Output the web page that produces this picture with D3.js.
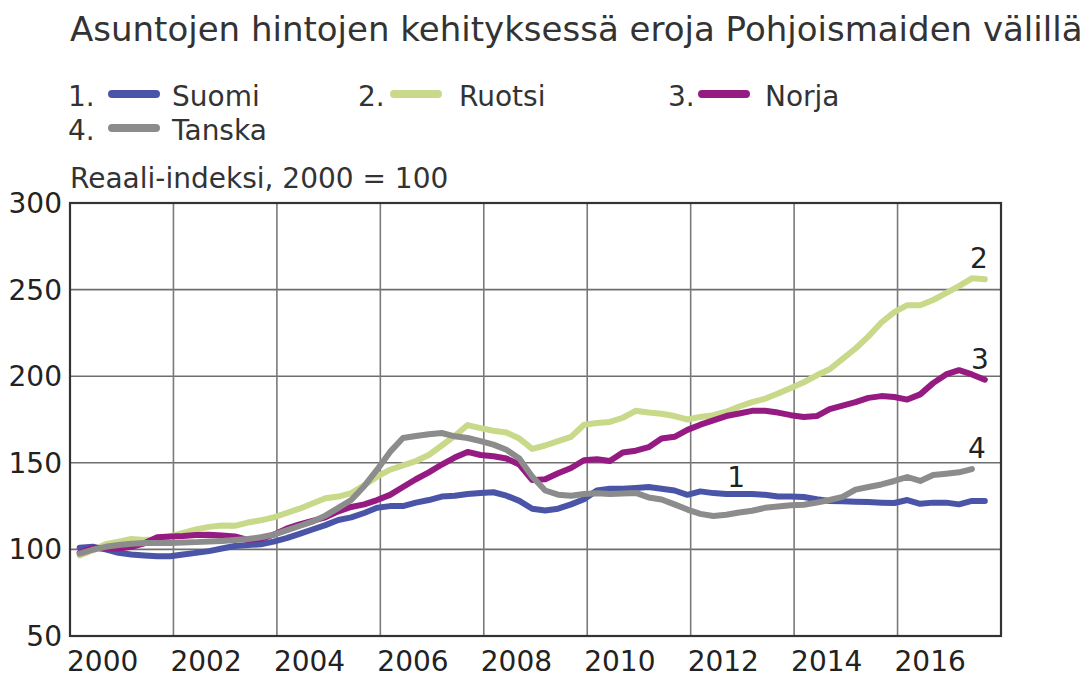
<!DOCTYPE html>
<html>
<head>
<meta charset="utf-8">
<script src="https://cdn.jsdelivr.net/npm/d3@7"></script>
<style>
  body { margin: 0; background: #fff; }
  svg { display: block; font-family: "DejaVu Sans", sans-serif; }
</style>
</head>
<body>
<svg id="chart"></svg>
<script>
// quarterly real house price index, 2000 = 100, first point 2000Q1
var firstYear = 2000;
var seriesNames = ["Suomi", "Ruotsi", "Norja", "Tanska"];
var seriesColors = ["#4a55a8", "#c8d98a", "#951b82", "#8c8c8c"];
var endLabels = ["1", "2", "3", "4"];

var suomi = [101, 101.5, 100, 98, 97, 96.5, 96, 96, 97, 98, 99, 100.5, 102, 102.5, 103, 104.5,
  106.5, 109, 111.5, 114, 117, 118.5, 121, 124, 125, 125, 127, 128.5, 130.5, 131, 132, 132.5,
  133, 131, 128, 123.5, 122.5, 123.5, 126, 129, 134, 135, 135, 135.5, 136, 135, 134, 131.5,
  133.5, 132.5, 132, 132, 132, 131.5, 130.5, 130.5, 130.3, 129, 128, 127.8, 127.5, 127.3, 127, 126.8,
  128.5, 126.3, 127, 127, 126, 128, 128];
var ruotsi = [96.5, 99.5, 103, 104.5, 106, 105.5, 105.5, 107.5, 109.5, 111.5, 113, 113.8, 113.6, 115.5, 116.8, 118.5,
  121, 123.5, 126.5, 129.5, 130.5, 132.5, 137, 142, 146, 148.5, 151, 154.5, 160, 165.5, 171.8, 170,
  168.5, 167.5, 164, 158, 160, 162.5, 165, 172, 173, 173.6, 176, 180, 179, 178.3, 177, 175,
  176.5, 177.5, 179.5, 182.5, 185, 187, 190, 193.2, 196.5, 200.5, 204, 210, 216, 223, 231, 237,
  241, 241, 244, 248, 252, 256.5, 256];
var norja = [98, 101, 100.5, 100.5, 101.5, 103.5, 107, 107.5, 107.8, 108.3, 108.4, 108, 107.5, 105.5, 106, 108.5,
  112, 114.5, 116.5, 118.5, 122, 124.5, 126, 128.5, 131.5, 136, 140.5, 144.5, 149, 153, 156.3, 154.5,
  153.8, 152.5, 149, 140, 140.5, 144, 147, 151.5, 152, 151, 156, 157, 159, 164, 165, 169,
  172, 174.5, 177, 178.5, 180, 180, 179, 177.5, 176.5, 177, 181, 183, 185, 187.5, 188.5, 188,
  186.5, 189.5, 196, 201, 203.5, 201, 198];
var tanska = [97.5, 99.8, 101.5, 102.5, 103.3, 103.7, 103.7, 103.7, 104, 104.2, 104.5, 104.9, 105.4, 106, 107, 108.5,
  111, 113.5, 116, 119.5, 124, 128.5, 136.5, 146, 156.3, 164.3, 165.5, 166.5, 167.2, 165.3, 164.3, 162.5,
  160.5, 157.5, 152.5, 142, 134, 131.6, 131, 132, 132.4, 132, 132.3, 132.6, 130, 128.8, 126, 123,
  120.5, 119.3, 120, 121.3, 122.3, 124, 124.8, 125.5, 125.8, 127, 128.5, 130.3, 134.5, 136, 137.5, 139.5,
  141.8, 139.5, 143, 143.7, 144.5, 146.4];

var yTicks = [50, 100, 150, 200, 250, 300];
var xTicks = [2000, 2002, 2004, 2006, 2008, 2010, 2012, 2014, 2016];

var title = "Asuntojen hintojen kehityksessä eroja Pohjoismaiden välillä";
var subtitle = "Reaali-indeksi, 2000 = 100";

var svgWidth = 1091, svgHeight = 678;
var margin = { top: 203, right: 90, bottom: 42, left: 70 };

var svg = d3.select("#chart")
  .attr("width", svgWidth)
  .attr("height", svgHeight);

var x = d3.scaleLinear()
  .domain([2000, 2018])
  .range([margin.left, svgWidth - margin.right]);

var y = d3.scaleLinear()
  .domain([50, 300])
  .range([svgHeight - margin.bottom, margin.top]);

//quarter index -> mid of quarter
var t = i => firstYear + (i + 0.75) / 4;

//gridlines
svg.append("g")
  .attr("stroke", "#6e6e6e")
  .attr("stroke-width", 1.6)
  .selectAll("line.h")
  .data(yTicks)
  .join("line")
    .attr("x1", x(2000)).attr("x2", x(2018))
    .attr("y1", d => y(d)).attr("y2", d => y(d));

svg.append("g")
  .attr("stroke", "#7a7a7a")
  .attr("stroke-width", 1.6)
  .selectAll("line.v")
  .data(xTicks.concat([2018]))
  .join("line")
    .attr("x1", d => x(d)).attr("x2", d => x(d))
    .attr("y1", y(50)).attr("y2", y(300));

//frame
svg.append("rect")
  .attr("x", x(2000)).attr("y", y(300))
  .attr("width", x(2018) - x(2000))
  .attr("height", y(50) - y(300))
  .attr("fill", "none")
  .attr("stroke", "#333")
  .attr("stroke-width", 2.2);

//axes labels
svg.append("g")
  .attr("font-size", 28)
  .attr("fill", "#222")
  .attr("text-anchor", "end")
  .selectAll("text")
  .data(yTicks)
  .join("text")
    .attr("x", 62)
    .attr("y", d => y(d))
    .attr("dy", "0.36em")
    .text(d => d);

svg.append("g")
  .attr("font-size", 28)
  .attr("fill", "#222")
  .selectAll("text")
  .data(xTicks)
  .join("text")
    .attr("x", d => x(d) - 3)
    .attr("y", 671)
    .text(d => d);

//lines
var allSeries = [suomi, ruotsi, norja, tanska];
var line = d3.line()
  .x((d, i) => x(t(i)))
  .y(d => y(d));

svg.append("g")
  .attr("fill", "none")
  .attr("stroke-width", 6)
  .attr("stroke-linejoin", "round")
  .attr("stroke-linecap", "round")
  .selectAll("path")
  .data(allSeries)
  .join("path")
    .attr("stroke", (d, i) => seriesColors[i])
    .attr("d", d => line(d));

//series numbers in the plot, placed next to a chosen data point
var numberPos = [
  { s: 0, i: 51, dx: -3, dy: -7 },
  { s: 1, i: 70, dx: -6, dy: -11 },
  { s: 2, i: 70, dx: -5, dy: -11 },
  { s: 3, i: 69, dx: 5, dy: -11 }
];
svg.append("g")
  .attr("font-size", 28)
  .attr("fill", "#222")
  .attr("text-anchor", "middle")
  .selectAll("text")
  .data(numberPos)
  .join("text")
    .attr("x", d => x(t(d.i)) + d.dx)
    .attr("y", d => y(allSeries[d.s][d.i]) + d.dy)
    .text(d => endLabels[d.s]);

//title + subtitle
svg.append("text")
  .attr("x", 70).attr("y", 41)
  .attr("font-size", 34)
  .attr("fill", "#333")
  .text(title);

svg.append("text")
  .attr("x", 70).attr("y", 188)
  .attr("font-size", 28)
  .attr("fill", "#333")
  .text(subtitle);

//legend: number x, line x, name x, baseline
var legendPos = [[68, 108, 172, 106], [358, 390, 459, 106], [668, 698, 765, 106], [68, 108, 172, 140]];
var legend = svg.append("g")
  .attr("font-size", 28)
  .attr("fill", "#333")
  .selectAll("g")
  .data(seriesNames)
  .join("g")
    .attr("transform", (d, i) => `translate(0,${legendPos[i][3]})`);

legend.append("text")
  .attr("x", (d, i) => legendPos[i][0])
  .text((d, i) => endLabels[i] + ".");

legend.append("line")
  .attr("x1", (d, i) => legendPos[i][1] + 4)
  .attr("x2", (d, i) => legendPos[i][1] + 48)
  .attr("y1", -12).attr("y2", -12)
  .attr("stroke", (d, i) => seriesColors[i])
  .attr("stroke-width", 8)
  .attr("stroke-linecap", "round");

legend.append("text")
  .attr("x", (d, i) => legendPos[i][2])
  .text(d => d);
</script>
</body>
</html>
